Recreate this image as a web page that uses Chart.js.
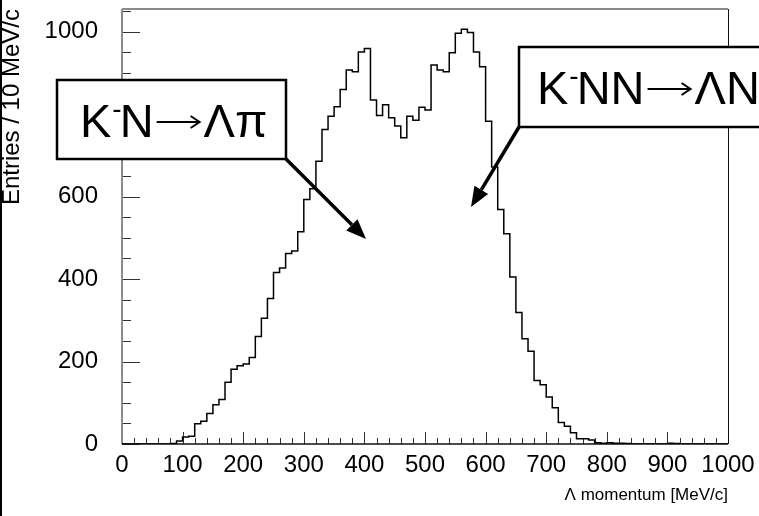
<!DOCTYPE html>
<html>
<head>
<meta charset="utf-8">
<script src="https://cdn.jsdelivr.net/npm/chart.js@4.4.0/dist/chart.umd.min.js"></script>
<style>
html,body{margin:0;padding:0;background:#fff;}
#contenedor{width:759px;height:516px;position:relative;}
</style>
</head>
<body>
<div id="contenedor"><canvas id="grafico"></canvas></div>
<script>
// histograma del momento de Lambda, bins de 10 MeV/c
var inicioBin = 0;
var anchoBin = 10;
var cuentas = [
    0,0,0,0,0,0,0,0,0,1,
    7,17,19,49,55,74,95,108,150,181,
    190,194,210,261,305,353,416,427,462,468,
    515,593,619,686,763,795,818,860,907,903,
    951,959,834,797,823,791,771,743,795,785,
    817,810,919,907,903,949,996,1006,998,951,
    915,783,672,569,510,405,319,255,225,154,
    144,114,88,52,43,27,13,13,10,3,
    2,3,2,2,1,0,0,0,0,0,
    0,2,1,0,0,0,0,0,0,0];
var ticksX = [0,100,200,300,400,500,600,700,800,900,1000];
var ticksY = [0,200,400,600,800,1000];
var tituloX = "\u039B momentum [MeV/c]";
var tituloY = "Entries / 10 MeV/c";
// etiquetas: [antes, superindice, antes de la flecha, despues de la flecha]
var etiqueta1 = ["K","-","N","\u039B\u03C0"];
var etiqueta2 = ["K","-","NN","\u039BN"];

var fuente = "'Liberation Sans', Arial, Helvetica, sans-serif";

function puntosHistograma(){
    let res = [];
    for (let i = 0; i < cuentas.length; i++) {
        res.push({x: inicioBin + i*anchoBin, y: cuentas[i]});
    }
    res.push({x: inicioBin + cuentas.length*anchoBin, y: cuentas[cuentas.length-1]});
    return res;
}

function linea(ctx, x1, y1, x2, y2){
    ctx.beginPath(); ctx.moveTo(x1, y1); ctx.lineTo(x2, y2); ctx.stroke();
}

function flecha(ctx, x1, y1, x2, y2){
    let ang = Math.atan2(y2-y1, x2-x1);
    let largo = 20, medio = 8;
    let bx = x2 - largo*Math.cos(ang), by = y2 - largo*Math.sin(ang);
    ctx.lineWidth = 3.5;
    linea(ctx, x1, y1, bx, by);
    ctx.beginPath();
    ctx.moveTo(x2, y2);
    ctx.lineTo(bx + medio*Math.sin(ang), by - medio*Math.cos(ang));
    ctx.lineTo(bx - medio*Math.sin(ang), by + medio*Math.cos(ang));
    ctx.closePath();
    ctx.fill();
}

function flechaTexto(ctx, x, y, largo){
    ctx.lineWidth = 2;
    linea(ctx, x, y, x + largo, y);
    ctx.beginPath();
    ctx.moveTo(x + largo - 9, y - 6);
    ctx.lineTo(x + largo, y);
    ctx.lineTo(x + largo - 9, y + 6);
    ctx.stroke();
}

function dibujaEtiqueta(ctx, x, y, ancho, alto, xt, yt, partes){
    ctx.fillStyle = '#fff';
    ctx.fillRect(x, y, ancho, alto);
    ctx.strokeStyle = '#000';
    ctx.lineWidth = 2.5;
    ctx.strokeRect(x, y, ancho, alto);
    ctx.fillStyle = '#000';
    ctx.textBaseline = 'alphabetic';
    ctx.textAlign = 'left';
    ctx.font = "47px " + fuente;
    ctx.fillText(partes[0], xt, yt);
    xt += ctx.measureText(partes[0]).width;
    ctx.font = "28px " + fuente;
    ctx.fillText(partes[1], xt + 1, yt - 19);
    xt += ctx.measureText(partes[1]).width - 1;
    ctx.font = "47px " + fuente;
    ctx.fillText(partes[2], xt, yt);
    xt += ctx.measureText(partes[2]).width + 3;
    flechaTexto(ctx, xt, yt - 15, 43);
    xt += 47;
    ctx.fillText(partes[3], xt, yt);
}

var marcoRoot = {
    id: 'marcoRoot',
    beforeDatasetsDraw: function(chart){
        let ctx = chart.ctx, a = chart.chartArea;
        let sx = chart.scales.x, sy = chart.scales.y;
        ctx.save();
        ctx.strokeStyle = '#333';
        ctx.lineWidth = 1;
        for (let v = 0; v <= 1000; v += 20) {
            let px = Math.round(sx.getPixelForValue(v)) + 0.5;
            let largo = (v % 100 == 0) ? 12 : 6;
            linea(ctx, px, a.bottom, px, a.bottom - largo);
        }
        for (let w = 0; w <= sy.max; w += 50) {
            let py = Math.round(sy.getPixelForValue(w)) + 0.5;
            let largo = (w % 200 == 0) ? 18 : 9;
            linea(ctx, a.left, py, a.left + largo, py);
        }
        // marco
        ctx.strokeStyle = '#8a8a8a';
        ctx.lineWidth = 2;
        linea(ctx, a.left, a.top, a.right, a.top);
        linea(ctx, a.left, a.top, a.left, a.bottom);
        ctx.strokeStyle = '#111';
        ctx.lineWidth = 1;
        linea(ctx, a.right + 0.5, a.top, a.right + 0.5, a.bottom);
        ctx.lineWidth = 1.5;
        linea(ctx, a.left, a.bottom, a.right, a.bottom);
        ctx.restore();
    },
    afterDraw: function(chart){
        let ctx = chart.ctx;
        ctx.save();
        // borde izquierdo de la imagen
        ctx.strokeStyle = '#000';
        ctx.lineWidth = 2;
        linea(ctx, 1, 0, 1, 516);
        dibujaEtiqueta(ctx, 57, 80, 229, 79, 80, 137, etiqueta1);
        dibujaEtiqueta(ctx, 519, 47, 260, 80, 537, 104, etiqueta2);
        ctx.fillStyle = '#000';
        ctx.strokeStyle = '#000';
        flecha(ctx, 286, 159, 366, 239);
        flecha(ctx, 519, 127, 471, 207);
        ctx.restore();
    }
};

var ctx = document.getElementById('grafico').getContext('2d');
var chart = new Chart(ctx, {
    type: 'line',
    data: {
        datasets: [{
            label: 'Lambda',
            data: puntosHistograma(),
            stepped: 'after',
            borderColor: '#000',
            borderWidth: 1.5,
            pointRadius: 0,
            fill: false
        }]
    },
    options: {
        responsive: true,
        maintainAspectRatio: false,
        animation: false,
        layout: { padding: { left: 0, top: 9, right: 31, bottom: 0 } },
        plugins: { legend: { display: false }, tooltip: { enabled: false } },
        scales: {
            x: {
                type: 'linear',
                min: 0,
                max: 1000,
                afterFit: function(s){ s.height = 72; s.paddingLeft = 0; s.paddingRight = 0; },
                afterBuildTicks: function(s){ s.ticks = ticksX.map(v => ({value: v})); },
                grid: { display: false, drawTicks: false },
                border: { display: false },
                ticks: { color: '#000', padding: 7, maxRotation: 0, autoSkip: false,
                         callback: function(v){ return String(v); },
                         font: { family: fuente, size: 24 } },
                title: { display: true, text: tituloX, align: 'end', color: '#000',
                         padding: { top: 0, bottom: 10 },
                         font: { family: fuente, size: 17 } }
            },
            y: {
                min: 0,
                max: 1055,
                afterFit: function(s){ s.width = 122; s.paddingTop = 0; s.paddingBottom = 0; },
                afterBuildTicks: function(s){ s.ticks = ticksY.map(v => ({value: v})); },
                grid: { display: false, drawTicks: false },
                border: { display: false },
                ticks: { color: '#000', padding: 24, autoSkip: false,
                         callback: function(v){ return String(v); },
                         font: { family: fuente, size: 24 } },
                title: { display: true, text: tituloY, align: 'end', color: '#000',
                         padding: { top: 0, bottom: 0 },
                         font: { family: fuente, size: 24, lineHeight: 1 } }
            }
        }
    },
    plugins: [marcoRoot]
});
</script>
</body>
</html>
